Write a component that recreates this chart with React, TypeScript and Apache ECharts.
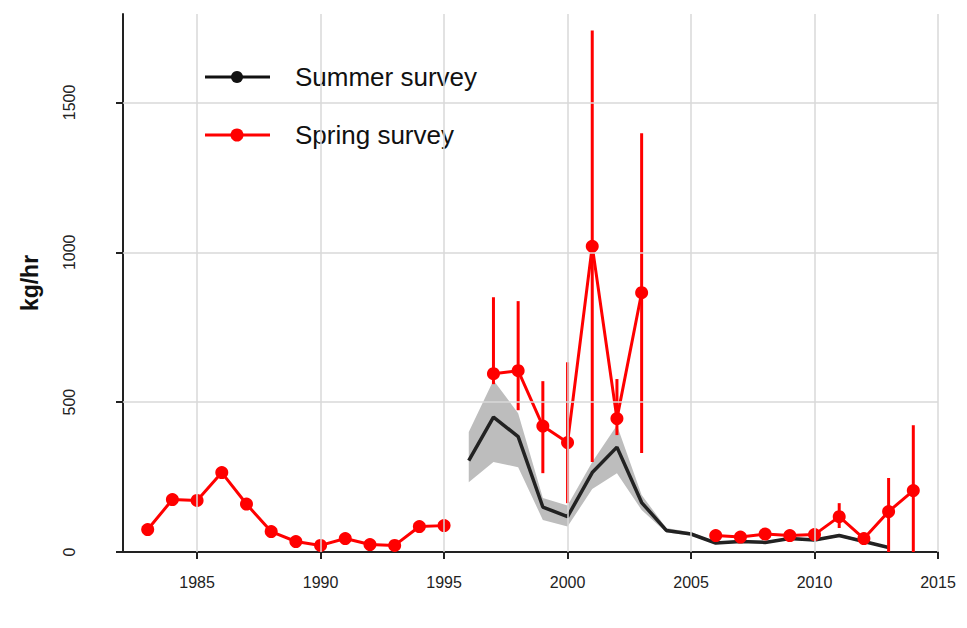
import React, { useEffect, useRef } from "react";
import * as echarts from "echarts";

const springYears = [1983,1984,1985,1986,1987,1988,1989,1990,1991,1992,1993,1994,1995,null,1997,1998,1999,2000,2001,2002,2003,null,2006,2007,2008,2009,2010,2011,2012,2013,2014];
const springValues = [75,175,172,265,160,68,35,22,45,25,22,85,88,null,595,605,420,365,1020,445,865,null,55,50,60,55,58,118,45,135,205];
const errYears = [1997,1998,1999,2000,2001,2002,2003,2011,2013,2014];
const errLow = [560,473,263,163,300,390,330,80,0,0];
const errHigh = [850,837,570,633,1740,577,1397,163,247,423];
const summerYears = [1996,1997,1998,1999,2000,2001,2002,2003,2004,2005,2006,2007,2008,2009,2010,2011,2012,2013];
const summerValues = [305,450,385,150,118,265,350,165,72,60,30,35,32,45,40,55,35,15];
const summerLow = [233,300,283,107,85,210,263,140,65,55,26,31,28,40,36,50,31,12];
const summerHigh = [400,573,463,180,155,300,423,190,80,66,34,39,36,50,44,60,39,18];
const xTicks = [1985,1990,1995,2000,2005,2010,2015];
const yTicks = [0,500,1000,1500];

export default function App() {
  const ref = useRef<HTMLDivElement>(null);
  useEffect(() => {
    const chart = echarts.init(ref.current!, null, { renderer: "svg" });
    const springData = springYears.map((y, i) => (y === null ? [null, null] : [y, springValues[i]]));
    const gridLine = { color: "#d9d9d9", type: "solid", width: 1.5 };
    chart.setOption({
      animation: false,
      grid: { left: 123, top: 14, right: 29, bottom: 76 },
      xAxis: {
        type: "value", min: 1982, max: 2015,
        axisLine: { onZero: false, lineStyle: { color: "#222", width: 2 } },
        axisTick: { customValues: xTicks, length: 7, lineStyle: { color: "#222", width: 2 } },
        axisLabel: { customValues: xTicks, color: "#222", fontSize: 16, margin: 22, fontFamily: "Liberation Sans", formatter: (v: number) => String(v) },
        splitLine: { show: false },
      },
      yAxis: {
        type: "value", min: 0, max: 1795,
        name: "kg/hr", nameLocation: "middle", nameGap: 82, nameRotate: 90,
        nameTextStyle: { fontSize: 23, fontWeight: "bold", color: "#111", fontFamily: "Liberation Sans" },
        axisLine: { show: true, lineStyle: { color: "#222", width: 2 } },
        axisTick: { show: true, customValues: yTicks, length: 7, lineStyle: { color: "#222", width: 2 } },
        axisLabel: { customValues: yTicks, color: "#222", fontSize: 16, rotate: 90, margin: 46, fontFamily: "Liberation Sans", formatter: (v: number) => String(v) },
        splitLine: { show: false },
      },
      graphic: [
        { type: "line", shape: { x1: 205, y1: 77, x2: 270, y2: 77 }, style: { stroke: "#111", lineWidth: 3 } },
        { type: "circle", shape: { cx: 237, cy: 77, r: 6 }, style: { fill: "#111" } },
        { type: "text", x: 295, y: 77, style: { text: "Summer survey", fontSize: 26, fill: "#111", fontFamily: "Liberation Sans", verticalAlign: "middle" } },
        { type: "line", shape: { x1: 205, y1: 135, x2: 270, y2: 135 }, style: { stroke: "#ff0000", lineWidth: 3 } },
        { type: "circle", shape: { cx: 237, cy: 135, r: 6.5 }, style: { fill: "#ff0000" } },
        { type: "text", x: 295, y: 135, style: { text: "Spring survey", fontSize: 26, fill: "#111", fontFamily: "Liberation Sans", verticalAlign: "middle" } },
      ],
      series: [
        {
          type: "custom",
          data: summerYears.map((y, i) => [y, summerLow[i], summerHigh[i]]),
          renderItem: (params: any, api: any) => {
            if (params.dataIndex !== 0) return null;
            const top = summerYears.map((y, i) => api.coord([y, summerHigh[i]]));
            const bot = summerYears.map((y, i) => api.coord([y, summerLow[i]])).reverse();
            return { type: "polygon", shape: { points: top.concat(bot) }, style: { fill: "#bdbdbd" } };
          },
          markLine: {
            silent: true, symbol: "none", label: { show: false }, lineStyle: gridLine,
            data: xTicks.map((v) => ({ xAxis: v })).concat(yTicks.slice(1).map((v) => ({ yAxis: v })) as any),
          },
          z: 1,
        },
        {
          type: "line", data: summerYears.map((y, i) => [y, summerValues[i]]),
          lineStyle: { color: "#222", width: 3.5 }, symbol: "none", z: 2,
        },
        {
          type: "custom",
          data: errYears.map((y, i) => [y, errLow[i], errHigh[i]]),
          renderItem: (params: any, api: any) => {
            const p1 = api.coord([api.value(0), api.value(1)]);
            const p2 = api.coord([api.value(0), api.value(2)]);
            return { type: "line", shape: { x1: p1[0], y1: p1[1], x2: p2[0], y2: p2[1] }, style: { stroke: "#ff0000", lineWidth: 3 } };
          },
          z: 3,
        },
        {
          type: "line", data: springData, connectNulls: false,
          lineStyle: { color: "#ff0000", width: 3 }, itemStyle: { color: "#ff0000" },
          symbol: "circle", symbolSize: 13, z: 4,
        },
      ],
    });
    return () => chart.dispose();
  }, []);
  return <div ref={ref} style={{ position: "fixed", left: 0, top: 0, width: 967, height: 628, background: "#fff" }} />;
}
